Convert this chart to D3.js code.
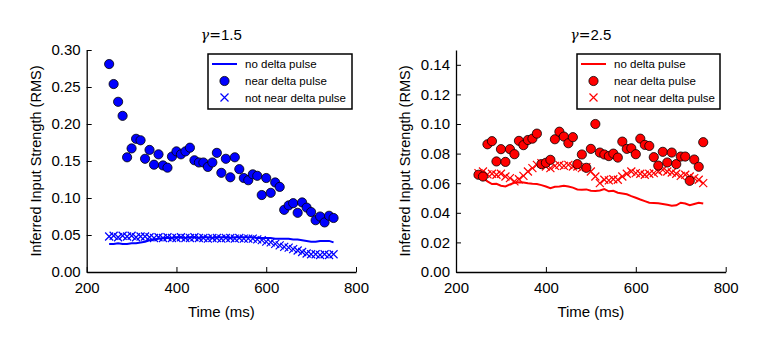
<!DOCTYPE html>
<style>
  body { margin: 0; background: #fff; }
  svg text { font-family: "Liberation Sans", Arial, sans-serif; fill: #000; }
</style>
<body></body>
<script src="https://cdn.jsdelivr.net/npm/d3@7"></script>
<script>
  const times = [250, 260, 270, 280, 290, 300, 310, 320, 330, 340, 350, 360, 370, 380, 390, 400, 410, 420, 430, 440,
    450, 460, 470, 480, 490, 500, 510, 520, 530, 540, 550, 560, 570, 580, 590, 600, 610, 620, 630, 640,
    650, 660, 670, 680, 690, 700, 710, 720, 730, 740, 750]

  // gamma = 1.5
  const leftNo = [0.038, 0.038, 0.039, 0.038, 0.038, 0.039, 0.039, 0.040, 0.041, 0.043, 0.044, 0.045, 0.046, 0.046, 0.046, 0.047, 0.047, 0.046, 0.047, 0.047,
    0.046, 0.047, 0.047, 0.046, 0.047, 0.047, 0.047, 0.046, 0.047, 0.047, 0.047, 0.047, 0.047, 0.046, 0.046, 0.046, 0.046, 0.045, 0.045, 0.045,
    0.045, 0.044, 0.044, 0.043, 0.042, 0.041, 0.041, 0.042, 0.042, 0.042, 0.040]
  const leftNear = [0.281, 0.254, 0.230, 0.211, 0.155, 0.167, 0.180, 0.178, 0.153, 0.165, 0.145, 0.159, 0.144, 0.141, 0.156, 0.163, 0.159, 0.163, 0.168, 0.151,
    0.148, 0.148, 0.142, 0.148, 0.161, 0.134, 0.153, 0.128, 0.155, 0.139, 0.127, 0.124, 0.132, 0.130, 0.104, 0.127, 0.107, 0.121, 0.115, 0.084,
    0.090, 0.093, 0.080, 0.094, 0.087, 0.081, 0.070, 0.075, 0.067, 0.076, 0.073]
  const leftNot = [0.048, 0.049, 0.047, 0.049, 0.048, 0.049, 0.047, 0.048, 0.048, 0.047, 0.046, 0.047, 0.046, 0.047, 0.046, 0.046, 0.047, 0.046, 0.046, 0.047,
    0.046, 0.046, 0.045, 0.046, 0.046, 0.045, 0.046, 0.046, 0.045, 0.046, 0.045, 0.045, 0.045, 0.044, 0.043, 0.041, 0.040, 0.038, 0.036, 0.034,
    0.033, 0.031, 0.029, 0.027, 0.025, 0.024, 0.024, 0.023, 0.024, 0.023, 0.024]

  // gamma = 2.5
  const rightNo = [0.0650, 0.0634, 0.0612, 0.0594, 0.0596, 0.0583, 0.0578, 0.0592, 0.0603, 0.0607, 0.0605, 0.0600, 0.0596, 0.0594, 0.0587, 0.0578, 0.0567, 0.0576, 0.0578, 0.0583,
    0.0578, 0.0570, 0.0558, 0.0556, 0.0558, 0.0549, 0.0547, 0.0551, 0.0560, 0.0545, 0.0549, 0.0536, 0.0531, 0.0525, 0.0513, 0.0502, 0.0490, 0.0479, 0.0468, 0.0466,
    0.0464, 0.0460, 0.0454, 0.0447, 0.0451, 0.0468, 0.0463, 0.0451, 0.0460, 0.0468, 0.0463]
  const rightNear = [0.0657, 0.0645, 0.0863, 0.0884, 0.0747, 0.0830, 0.0744, 0.0830, 0.0796, 0.0886, 0.0857, 0.0892, 0.0901, 0.0935, 0.0729, 0.0738, 0.0758, 0.0897, 0.0948, 0.0915,
    0.0870, 0.0911, 0.0729, 0.0794, 0.0704, 0.0832, 0.1000, 0.0807, 0.0794, 0.0783, 0.0800, 0.0773, 0.0881, 0.0832, 0.0836, 0.0796, 0.0901, 0.0859, 0.0852, 0.0776,
    0.0719, 0.0812, 0.0740, 0.0807, 0.0729, 0.0780, 0.0780, 0.0616, 0.0760, 0.0711, 0.0877]
  const rightNot = [0.0668, 0.0679, 0.0660, 0.0664, 0.0657, 0.0664, 0.0645, 0.0634, 0.0612, 0.0627, 0.0650, 0.0679, 0.0702, 0.0724, 0.0735, 0.0713, 0.0702, 0.0717, 0.0724, 0.0717,
    0.0724, 0.0713, 0.0713, 0.0702, 0.0708, 0.0679, 0.0645, 0.0601, 0.0623, 0.0619, 0.0627, 0.0623, 0.0645, 0.0664, 0.0679, 0.0668, 0.0664, 0.0657, 0.0664, 0.0668,
    0.0679, 0.0690, 0.0679, 0.0672, 0.0664, 0.0650, 0.0657, 0.0645, 0.0634, 0.0623, 0.0601]

  const xTicks = [200, 400, 600, 800]
  const legendLabels = ["no delta pulse", "near delta pulse", "not near delta pulse"]

  const panels = [
    { gamma: "1.5", color: "#0000ff", left: 86.7, right: 356, yMax: 0.30, yTicks: [0, 0.05, 0.10, 0.15, 0.20, 0.25, 0.30],
      no: leftNo, near: leftNear, not: leftNot, legendX: 208, legendW: 144 },
    { gamma: "2.5", color: "#ff0000", left: 456, right: 725.7, yMax: 0.15, yTicks: [0, 0.02, 0.04, 0.06, 0.08, 0.10, 0.12, 0.14],
      no: rightNo, near: rightNear, not: rightNot, legendX: 577, legendW: 143 }
  ]

  const plotTop = 50, plotBottom = 272

  const svg = d3.select("body").append("svg")
    .attr("width", 763)
    .attr("height", 347)

  const crossPath = "M-4,-4L4,4M-4,4L4,-4"

  panels.forEach(p => {
    const x = d3.scaleLinear().domain([200, 800]).range([p.left, p.right])
    const y = d3.scaleLinear().domain([0, p.yMax]).range([plotBottom, plotTop])
    const g = svg.append("g")

    // axes, ticks inward like matplotlib
    const xAxis = d3.axisBottom(x).tickValues(xTicks).tickSizeInner(-5).tickSizeOuter(0).tickPadding(10)
    const yAxis = d3.axisLeft(y).tickValues(p.yTicks).tickFormat(d3.format(".2f")).tickSizeInner(-5).tickSizeOuter(0).tickPadding(6)

    g.append("g")
      .attr("transform", `translate(0, ${plotBottom})`)
      .call(xAxis)
    g.append("g")
      .attr("transform", `translate(${p.left}, 0)`)
      .call(yAxis)

    g.selectAll(".domain").attr("stroke", "#000").attr("stroke-width", 1.3)
    g.selectAll(".tick line").attr("stroke", "#000").attr("stroke-width", 1)
    g.selectAll(".tick text").style("font-size", "15px")

    const cx = (p.left + p.right) / 2

    g.append("text")
      .attr("x", cx)
      .attr("y", 317)
      .attr("text-anchor", "middle")
      .style("font-size", "15px")
      .text("Time (ms)")

    g.append("text")
      .attr("transform", `translate(${p.left - 46}, ${(plotTop + plotBottom) / 2}) rotate(-90)`)
      .attr("text-anchor", "middle")
      .style("font-size", "14.5px")
      .text("Inferred Input Strength (RMS)")

    const title = g.append("text")
      .attr("x", cx)
      .attr("y", 40)
      .attr("text-anchor", "middle")
      .style("font-size", "15px")
    title.append("tspan").style("font-family", "DejaVu Serif").style("font-style", "italic").style("font-size", "14px").text("γ")
    title.append("tspan").style("font-family", "DejaVu Serif").style("font-size", "14px").text("=")
    title.append("tspan").text(p.gamma)

    // not near delta pulse: crosses
    g.append("g")
      .selectAll("path")
      .data(times)
      .enter()
      .append("path")
      .attr("transform", (d, i) => `translate(${x(d)}, ${y(p.not[i])})`)
      .attr("d", crossPath)
      .attr("fill", "none")
      .attr("stroke", p.color)
      .attr("stroke-width", 1.2)

    // no delta pulse: line
    const line = d3.line()
      .x((d, i) => x(times[i]))
      .y(d => y(d))

    g.append("path")
      .datum(p.no)
      .attr("d", line)
      .attr("fill", "none")
      .attr("stroke", p.color)
      .attr("stroke-width", 2)

    // near delta pulse: circles
    g.append("g")
      .selectAll("circle")
      .data(times)
      .enter()
      .append("circle")
      .attr("cx", d => x(d))
      .attr("cy", (d, i) => y(p.near[i]))
      .attr("r", 4.6)
      .attr("fill", p.color)
      .attr("stroke", "#000")
      .attr("stroke-width", 0.8)

    // legend
    const lg = g.append("g").attr("transform", `translate(${p.legendX}, 54)`)
    lg.append("rect")
      .attr("width", p.legendW)
      .attr("height", 55)
      .attr("fill", "#fff")
      .attr("stroke", "#000")
      .attr("stroke-width", 1.5)

    const rowY = [10, 27, 43.5]
    lg.append("line")
      .attr("x1", 4).attr("x2", 29)
      .attr("y1", rowY[0]).attr("y2", rowY[0])
      .attr("stroke", p.color)
      .attr("stroke-width", 2)
    lg.append("circle")
      .attr("cx", 16.5).attr("cy", rowY[1])
      .attr("r", 4.6)
      .attr("fill", p.color)
      .attr("stroke", "#000")
      .attr("stroke-width", 0.8)
    lg.append("path")
      .attr("transform", `translate(16.5, ${rowY[2]})`)
      .attr("d", crossPath)
      .attr("fill", "none")
      .attr("stroke", p.color)
      .attr("stroke-width", 1.2)

    lg.selectAll("text.lbl")
      .data(legendLabels)
      .enter()
      .append("text")
      .attr("class", "lbl")
      .attr("x", 37)
      .attr("y", (d, i) => rowY[i] + 4)
      .style("font-size", "11.5px")
      .text(d => d)
  })
</script>
